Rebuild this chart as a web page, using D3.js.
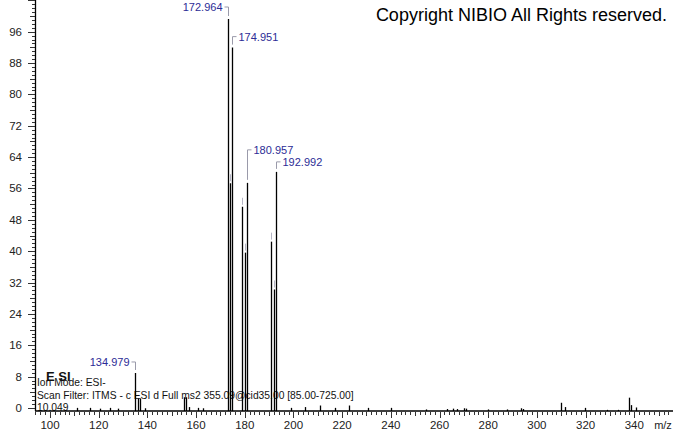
<!DOCTYPE html>
<html>
<head>
<meta charset="utf-8">
<script src="https://cdn.jsdelivr.net/npm/d3@7"></script>
<style>
  body { margin: 0; background: #fff; }
  svg { display: block; font-family: "Liberation Sans", Arial, sans-serif; }
</style>
</head>
<body>
<div id="spectrum"></div>
<script>
// m/z of each centroid and its relative abundance (%)
let peakMz = [111.0, 116.4, 120.5, 124.6, 127.9, 134.979, 135.98, 136.97, 139.0,
  154.9, 155.9, 157.0, 160.9, 163.0, 172.964, 173.96, 174.951, 178.97, 179.95,
  180.957, 190.98, 191.98, 192.992, 198.9, 204.9, 211.0, 216.9, 222.9, 230.7,
  240.0, 254.4, 263.2, 265.4, 267.3, 269.9, 270.7, 279.8, 287.6, 293.4, 294.1,
  309.7, 311.6, 319.6, 328.6, 333.4, 337.7, 338.5, 340.8]
let peakInt = [0.8, 0.8, 0.6, 0.8, 0.6, 9.7, 3.2, 3.2, 0.7,
  3.5, 3.5, 1.0, 0.8, 0.7, 100, 58.1, 92.7, 52.1, 40.4,
  58.2, 43.2, 31.0, 61.0, 0.8, 1.0, 1.4, 0.8, 1.4, 0.8,
  0.8, 0.4, 0.5, 0.6, 0.5, 0.7, 0.6, 0.4, 0.4, 0.7, 0.5,
  2.1, 1.0, 0.8, 0.3, 0.3, 3.4, 1.5, 0.9]

// labelled peaks and the ones only flagged with a grey mark
let labelMz = [134.979, 172.964, 174.951, 180.957, 192.992]
let labelSide = ["left", "left", "right", "right", "right"]
let flagMz = [173.96, 178.97, 179.95, 190.98, 191.98]

let xTicks = [100, 120, 140, 160, 180, 200, 220, 240, 260, 280, 300, 320, 340]
let yTicks = [0, 8, 16, 24, 32, 40, 48, 56, 64, 72, 80, 88, 96]

let headerLines = ["Ion Mode: ESI-",
  "Scan Filter: ITMS - c ESI d Full ms2 355.09@cid35.00 [85.00-725.00]",
  "10.049"]

let width = 673, height = 433
let left = 35, base = 411

let svg = d3.select("#spectrum").append("svg")
  .attr("width", width)
  .attr("height", height)

let x = d3.scaleLinear().domain([93.84, 355.9]).range([left, width])
let y = d3.scaleLinear().domain([0, 100]).range([base, 19])

// header text drawn first so the peaks sit over it
svg.append("text")
  .attr("x", 46).attr("y", 381)
  .attr("font-size", 13).attr("font-weight", "bold")
  .attr("fill", "#111")
  .text("E SI")
headerLines.forEach((t, i) => {
  svg.append("text")
    .attr("x", 37).attr("y", 386 + i * 12.5)
    .attr("font-size", 10.3)
    .attr("fill", "#111")
    .text(t)
})

svg.append("text")
  .attr("x", 667).attr("y", 21)
  .attr("text-anchor", "end")
  .attr("font-size", 18)
  .attr("fill", "#000")
  .text("Copyright NIBIO All Rights reserved.")

// peaks
svg.selectAll("line.peak")
  .data(peakMz)
  .enter()
  .append("line")
  .attr("class", "peak")
  .attr("x1", d => Math.round(x(d)) + 0.5)
  .attr("x2", d => Math.round(x(d)) + 0.5)
  .attr("y1", base)
  .attr("y2", (d, i) => y(peakInt[i]))
  .attr("stroke", "#000")
  .attr("stroke-width", 1.3)

// grey flags above crowded peaks
let intOf = mz => peakInt[peakMz.indexOf(mz)]
svg.selectAll("line.flag")
  .data(flagMz)
  .enter()
  .append("line")
  .attr("x1", d => Math.round(x(d)) + 0.5)
  .attr("x2", d => Math.round(x(d)) + 0.5)
  .attr("y1", d => y(intOf(d)) - 2)
  .attr("y2", d => y(intOf(d)) - 9)
  .attr("stroke", "#b4b4c4")
  .attr("stroke-width", 1)

// label brackets, lift in px above the peak top
let lift = [11, 12, 11, 33, 10]
labelMz.forEach((mz, i) => {
  let px = Math.round(x(mz)) + 0.5
  let top = y(intOf(mz))
  let ly = top - lift[i]
  let dir = labelSide[i] == "left" ? -1 : 1
  svg.append("path")
    .attr("d", `M${px},${top - 3}V${ly}H${px + dir * 4}`)
    .attr("fill", "none")
    .attr("stroke", "#9a9aaa")
    .attr("stroke-width", 1)
  svg.append("text")
    .attr("x", px + dir * 6)
    .attr("y", ly + 4)
    .attr("text-anchor", dir < 0 ? "end" : "start")
    .attr("font-size", 11)
    .attr("fill", "#2c2c96")
    .text(mz.toFixed(3))
})

// axes
let xAxis = svg.append("g").attr("transform", `translate(0,${base})`)
xAxis.append("line")
  .attr("x1", left).attr("x2", width)
  .attr("stroke", "#000").attr("stroke-width", 1.3)
xAxis.selectAll("line.tick")
  .data(d3.range(94, 356, 2))
  .enter()
  .append("line")
  .attr("x1", d => Math.round(x(d)) + 0.5)
  .attr("x2", d => Math.round(x(d)) + 0.5)
  .attr("y1", 1)
  .attr("y2", d => d % 20 == 0 ? 7 : d % 10 == 0 ? 5 : 4)
  .attr("stroke", "#333")
xAxis.selectAll("text")
  .data(xTicks)
  .enter()
  .append("text")
  .attr("x", d => x(d))
  .attr("y", 18)
  .attr("text-anchor", "middle")
  .attr("font-size", 11.5)
  .attr("fill", "#222")
  .text(d => d)
xAxis.append("text")
  .attr("x", 663).attr("y", 18)
  .attr("text-anchor", "middle")
  .attr("font-size", 11)
  .attr("fill", "#222")
  .text("m/z")

let yAxis = svg.append("g")
yAxis.append("line")
  .attr("x1", left + 0.5).attr("x2", left + 0.5)
  .attr("y1", 0).attr("y2", base)
  .attr("stroke", "#000").attr("stroke-width", 1.3)
yAxis.selectAll("line.tick")
  .data(d3.range(0, 105, 1))
  .enter()
  .append("line")
  .attr("x1", d => d % 8 == 0 ? left - 7 : d % 4 == 0 ? left - 5 : left - 3)
  .attr("x2", left)
  .attr("y1", d => Math.round(y(d)) - 2.5)
  .attr("y2", d => Math.round(y(d)) - 2.5)
  .attr("stroke", "#333")
yAxis.selectAll("text")
  .data(yTicks)
  .enter()
  .append("text")
  .attr("x", 22)
  .attr("y", d => y(d) + 1)
  .attr("text-anchor", "end")
  .attr("font-size", 11.5)
  .attr("fill", "#222")
  .text(d => d)
</script>
</body>
</html>
